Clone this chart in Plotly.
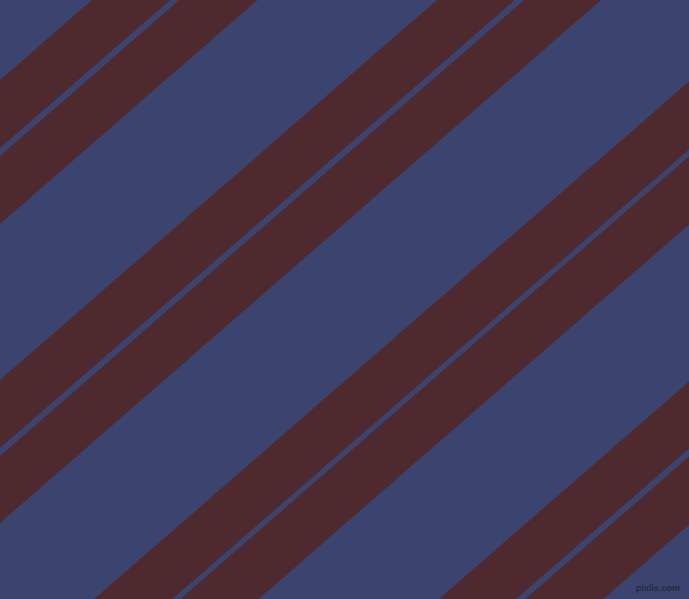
import plotly.graph_objects as go

# stripe bands, given as intercepts c of the line y = c - slope * x (pixels, y down)
slope = 0.87
band_starts = [80, 156, 380, 456, 681, 756, 981, 1056]
band_ends = [148, 224, 448, 523, 749, 824, 1048, 1124]

width, height = 689, 599
bg_color = "#3a446e"
stripe_color = "#4e2a2e"

fig = go.Figure()

x_left, x_right = -20, width + 20
for c1, c2 in zip(band_starts, band_ends):
    xs = [x_left, x_right, x_right, x_left, x_left]
    ys = [c1 - slope * x_left, c1 - slope * x_right,
          c2 - slope * x_right, c2 - slope * x_left, c1 - slope * x_left]
    fig.add_trace(go.Scatter(x=xs, y=ys, mode="lines", fill="toself",
                             fillcolor=stripe_color, line=dict(width=0),
                             hoverinfo="skip", showlegend=False))

fig.add_annotation(x=682, y=588, text="<b>pixlis.com</b>", showarrow=False,
                   xanchor="right", yanchor="middle",
                   font=dict(family="Liberation Sans", size=9, color="#262b43"))

fig.update_xaxes(range=[0, width], visible=False, fixedrange=True)
fig.update_yaxes(range=[height, 0], visible=False, fixedrange=True)
fig.update_layout(width=width, height=height,
                  margin=dict(l=0, r=0, t=0, b=0),
                  plot_bgcolor=bg_color, paper_bgcolor=bg_color)

# page body has a default 8px margin; drop it so the figure fills the window
fig.write_html("out.html", config={"displayModeBar": False},
               post_script="document.body.style.margin='0';"
                           "document.body.style.overflow='hidden';")
